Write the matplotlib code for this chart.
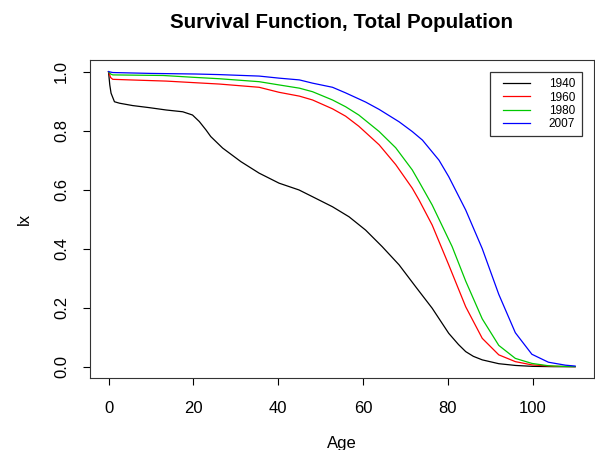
import numpy as np
import matplotlib
matplotlib.use("Agg")
import matplotlib.pyplot as plt
from matplotlib.lines import Line2D
from matplotlib.legend_handler import HandlerLine2D

plt.rcParams["font.family"] = ["Liberation Sans", "DejaVu Sans"]

# valores (edad, lx)
edad_1940 = [0, 0.3, 0.6, 1.4, 2.6, 5.7, 9.6, 13.6, 17.5, 19.8, 21.4, 23, 24.1, 26.9, 31.2, 35.5,
             40.2, 44.9, 48.1, 52.8, 56.7, 60.6, 64.5, 68.5, 72.4, 76.3, 80.2, 82.5, 84.2, 86,
             88.1, 92, 96, 100, 105, 110]
lx_1940 = [1.0, 0.955, 0.927, 0.898, 0.893, 0.885, 0.878, 0.870, 0.864, 0.853, 0.831, 0.802,
           0.78, 0.741, 0.695, 0.656, 0.622, 0.599, 0.576, 0.542, 0.508, 0.463, 0.407, 0.345,
           0.271, 0.198, 0.113, 0.075, 0.051, 0.035, 0.023, 0.010, 0.004, 0.001, 0.0, 0.0]

edad_1960 = [0, 0.5, 1, 5, 13.6, 19.8, 26.1, 35.5, 40.2, 45, 48.1, 52.8, 55.9, 59, 63.8, 67.7,
             71.6, 73.2, 76.3, 80.2, 84.2, 88.1, 92, 95.9, 99.8, 105, 110]
lx_1960 = [1.0, 0.98, 0.974, 0.972, 0.968, 0.963, 0.958, 0.947, 0.930, 0.917, 0.904, 0.874,
           0.849, 0.815, 0.752, 0.685, 0.605, 0.565, 0.48, 0.345, 0.203, 0.096, 0.040, 0.017,
           0.006, 0.001, 0.0]

edad_1980 = [0, 0.5, 1, 12.9, 19.8, 26.1, 35.5, 40.2, 45, 48.1, 52.8, 55.9, 59, 63.8, 67.7, 71.6,
             73.2, 76.3, 81, 84.2, 88.1, 92, 95.9, 99.8, 103.7, 107, 110]
lx_1980 = [1.0, 0.992, 0.989, 0.987, 0.981, 0.976, 0.966, 0.955, 0.944, 0.932, 0.904, 0.881,
           0.853, 0.797, 0.742, 0.667, 0.627, 0.548, 0.407, 0.29, 0.162, 0.072, 0.028, 0.011,
           0.003, 0.001, 0.0]

edad_2007 = [0, 1, 10, 20.6, 26.1, 35.5, 40.2, 45, 48.1, 52.8, 55.9, 60.6, 63.8, 68.5, 71.6, 74,
             77.9, 80.2, 84.2, 88.1, 92, 95.9, 99.8, 103.7, 107.7, 110]
lx_2007 = [1.0, 0.997, 0.994, 0.992, 0.99, 0.985, 0.978, 0.972, 0.961, 0.947, 0.928, 0.897,
           0.872, 0.83, 0.797, 0.768, 0.70, 0.644, 0.531, 0.400, 0.245, 0.115, 0.042, 0.015,
           0.005, 0.002]

series = [("1940", edad_1940, lx_1940, "black"),
          ("1960", edad_1960, lx_1960, "red"),
          ("1980", edad_1980, lx_1980, "#00c800"),
          ("2007", edad_2007, lx_2007, "blue")]

fig = plt.figure(figsize=(5.95, 4.5), dpi=100)
ax = fig.add_axes([0.151, 0.159, 0.847, 0.708])

for nombre, x, y, color in series:
    ax.plot(x, y, color=color, linewidth=0.9, label=nombre)

ax.set_xlim(-4.4, 114.4)
ax.set_ylim(-0.04, 1.04)
ax.set_xticks([0, 20, 40, 60, 80, 100])
ax.set_yticks([0.0, 0.2, 0.4, 0.6, 0.8, 1.0])
ax.set_yticklabels(["0.0", "0.2", "0.4", "0.6", "0.8", "1.0"], rotation=90, va="center")
ax.tick_params(direction="out", length=5, width=0.8, labelsize=12)
ax.tick_params(axis="x", pad=11.5)
ax.tick_params(axis="y", pad=10)
for s in ax.spines.values():
    s.set_linewidth(0.8)
    s.set_color("#333333")

ax.set_xlabel("Age", fontsize=12, labelpad=14)
ax.set_ylabel("lx", fontsize=12, labelpad=16)
ax.set_title("Survival Function, Total Population", fontsize=14.8, fontweight="bold", pad=23)

# leyenda estilo R: linea corta con margen a la izquierda
leg = ax.legend(loc="upper right", bbox_to_anchor=(0.976, 0.962), fontsize=8.5, frameon=True,
                fancybox=False, edgecolor="black", handlelength=2.85, handletextpad=1.6,
                borderpad=0.55, labelspacing=0.1, borderaxespad=0,
                handler_map={Line2D: HandlerLine2D(xpad=0.55)})
leg.get_frame().set_linewidth(0.9)

fig.savefig("out.png", dpi=100)
